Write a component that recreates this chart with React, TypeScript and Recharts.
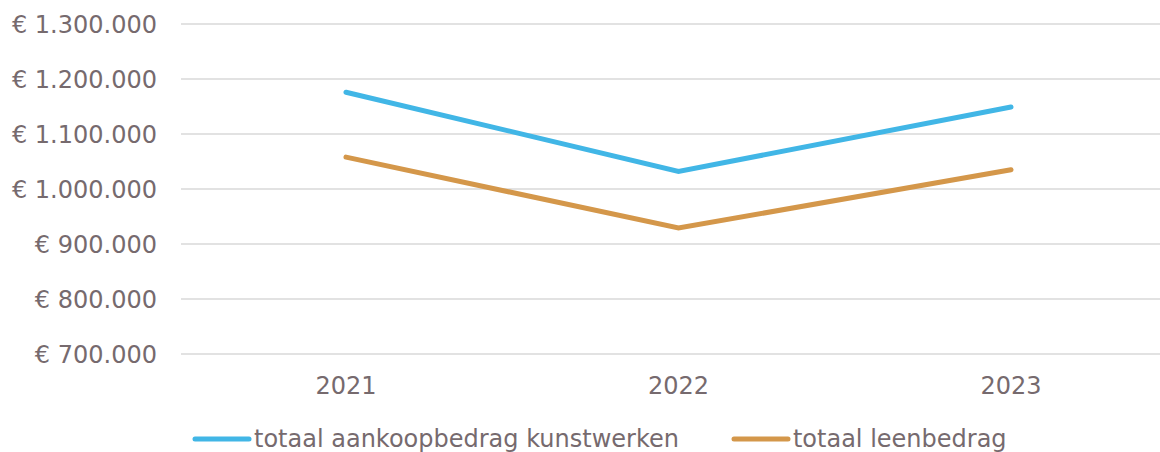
import { LineChart, Line, XAxis, YAxis, CartesianGrid, Legend } from 'recharts'

const years = ['2021', '2022', '2023']
const aankoop = [1176000, 1032000, 1149000]
const leen = [1058000, 929000, 1035000]
const yTicks = [700000, 800000, 900000, 1000000, 1100000, 1200000, 1300000]

const series = [
  { key: 'aankoop', name: 'totaal aankoopbedrag kunstwerken', color: '#41B6E6' },
  { key: 'leen', name: 'totaal leenbedrag', color: '#D4974A' },
]

const data = years.map((year, i) => ({ year, aankoop: aankoop[i], leen: leen[i] }))

const textColor = '#766A6E'
const font = '"DejaVu Sans", Verdana, sans-serif'

const formatEuro = (v: number) =>
  '€ ' + String(v).replace(/\B(?=(\d{3})+(?!\d))/g, '.')

const LegendContent = () => (
  <div style={{ display: 'flex', alignItems: 'center', fontFamily: font, fontSize: 24, color: textColor }}>
    {series.map((s, i) => (
      <div key={s.key} style={{ display: 'flex', alignItems: 'center', marginRight: i === 0 ? 52 : 0 }}>
        <svg width={60} height={10} style={{ marginRight: 2 }}>
          <line x1={3} y1={5} x2={57} y2={5} stroke={s.color} strokeWidth={5} strokeLinecap="round" />
        </svg>
        <span style={{ lineHeight: '28px' }}>{s.name}</span>
      </div>
    ))}
  </div>
)

export default function App() {
  return (
    <div style={{ position: 'absolute', left: 0, top: 0, width: 1160, height: 452, overflow: 'hidden', background: '#fff' }}>
      <LineChart width={1176} height={452} data={data} margin={{ top: 24, right: 0, bottom: 0, left: 0 }}>
        <CartesianGrid vertical={false} stroke="#D9D9D9" strokeWidth={1.5} />
        <XAxis
          dataKey="year"
          axisLine={false}
          tickLine={false}
          tickSize={0}
          tickMargin={23}
          height={48}
          padding={{ left: 165, right: 165 }}
          tick={{ fill: textColor, fontSize: 24, fontFamily: font }}
        />
        <YAxis
          domain={[700000, 1300000]}
          ticks={yTicks}
          width={181}
          axisLine={false}
          tickLine={false}
          tickSize={0}
          tickMargin={24}
          tickFormatter={formatEuro}
          tick={{ fill: textColor, fontSize: 24, fontFamily: font }}
        />
        <Legend
          verticalAlign="bottom"
          content={<LegendContent />}
          wrapperStyle={{ height: 50, left: 192, top: 425, bottom: 'auto', width: 'auto' }}
        />
        {series.map((s) => (
          <Line
            key={s.key}
            type="linear"
            dataKey={s.key}
            name={s.name}
            stroke={s.color}
            strokeWidth={5}
            strokeLinecap="round"
            dot={false}
            activeDot={false}
            isAnimationActive={false}
          />
        ))}
      </LineChart>
    </div>
  )
}
